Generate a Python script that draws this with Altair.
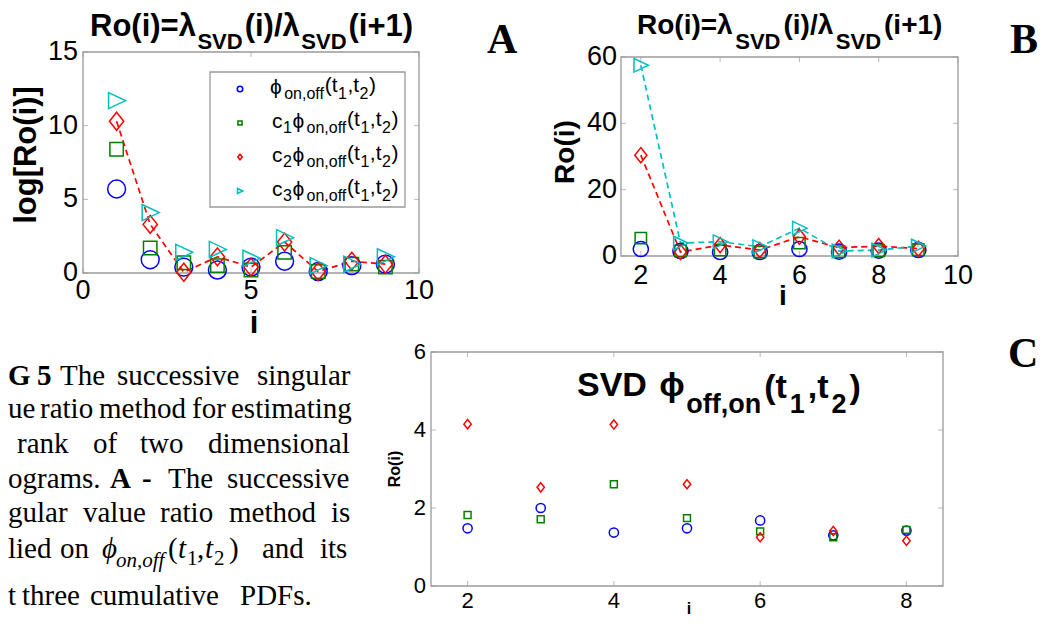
import altair as alt
import pandas as pd

# ---------------- data ----------------
SERIES = ["phi", "c1", "c2", "c3"]
COLORS = ["#0000ff", "#008000", "#ff0000", "#00bfbf"]

A_I = [1, 2, 3, 4, 5, 6, 7, 8, 9]
A_PHI = [5.7, 0.9, 0.4, 0.2, 0.4, 0.8, 0.1, 0.5, 0.6]
A_C1 = [8.4, 1.7, 0.7, 0.5, 0.2, 1.4, 0.1, 0.6, 0.4]
A_C2 = [10.3, 3.3, 0.05, 1.1, 0.4, 2.1, 0.1, 0.8, 0.6]
A_C3 = [11.7, 4.1, 1.4, 1.6, 1.0, 2.4, 0.5, 0.6, 1.1]

B_I = [2, 3, 4, 5, 6, 7, 8, 9]
B_PHI = [2.1, 1.5, 1.2, 1.2, 2.1, 1.3, 1.6, 1.8]
B_C1 = [5.4, 1.5, 1.8, 1.2, 3.9, 1.3, 1.6, 1.9]
B_C2 = [30.4, 1.2, 3.3, 1.8, 5.8, 2.5, 3.0, 2.2]
B_C3 = [57.5, 3.9, 4.3, 2.8, 8.4, 1.5, 1.8, 3.0]

C_I = [2, 3, 4, 5, 6, 7, 8]
C_PHI = [1.48, 2.00, 1.37, 1.48, 1.68, 1.30, 1.42]
C_C1 = [1.82, 1.71, 2.61, 1.74, 1.40, 1.25, 1.44]
C_C2 = [4.15, 2.53, 4.14, 2.61, 1.25, 1.41, 1.16]

A_XTICKS = [0, 5, 10]
A_YTICKS = [0, 5, 10, 15]
B_XTICKS = [2, 4, 6, 8, 10]
B_YTICKS = [0, 20, 40, 60]
C_XTICKS = [2, 4, 6, 8]
C_YTICKS = [0, 2, 4, 6]

# ---------------- style ----------------
W, H = 1033, 611
P = 8  # page margin
SANS = "Liberation Sans, Arial, DejaVu Sans"
SERIF = "Liberation Serif, Times New Roman, DejaVu Serif"
FRAME = "#9a9a9a"
PHI = "\u03d5"
SHAPES = [
    "circle",
    "M-0.75,-0.75L0.75,-0.75L0.75,0.75L-0.75,0.75Z",
    "M0,-1L0.8,0L0,1L-0.8,0Z",
    "M-0.9,-0.9L1,0L-0.9,0.9Z",
]
COLOR_SCALE = alt.Scale(domain=SERIES, range=COLORS)
SHAPE_SCALE = alt.Scale(domain=SERIES, range=SHAPES)


def long_df(i_vals, series_vals, names):
    rows = []
    for s, vals in zip(names, series_vals):
        for i, v in zip(i_vals, vals):
            rows.append({"i": i, "v": v, "series": s})
    return pd.DataFrame(rows)


def panel(df, xdom, ydom, box, xticks, yticks, fs, dyx, dxy, msize, line_series):
    x0, x1, y0, y1 = box  # page coords: left, right, top, bottom
    xs = alt.Scale(domain=xdom, range=[x0 - P, x1 - P], nice=False, zero=False)
    ys = alt.Scale(domain=ydom, range=[y1 - P, y0 - P], nice=False, zero=False)

    pts = alt.Chart(df).mark_point(filled=False, size=msize, strokeWidth=1.5, opacity=1).encode(
        x=alt.X("i:Q", scale=xs, axis=None),
        y=alt.Y("v:Q", scale=ys, axis=None),
        color=alt.Color("series:N", scale=COLOR_SCALE, legend=None),
        shape=alt.Shape("series:N", scale=SHAPE_SCALE, legend=None),
    )
    layers = []
    if line_series:
        lines = alt.Chart(df).transform_filter(
            alt.FieldOneOfPredicate(field="series", oneOf=line_series)
        ).mark_line(strokeDash=[6, 4], strokeWidth=1.7).encode(
            x=alt.X("i:Q", scale=xs, axis=None),
            y=alt.Y("v:Q", scale=ys, axis=None),
            color=alt.Color("series:N", scale=COLOR_SCALE, legend=None),
        )
        layers.append(lines)

    fdf = pd.DataFrame({"xa": [xdom[0]], "xb": [xdom[1]], "ya": [ydom[0]], "yb": [ydom[1]]})
    frame = alt.Chart(fdf).mark_rect(fillOpacity=0, stroke=FRAME, strokeWidth=1.3).encode(
        x=alt.X("xa:Q", scale=xs, axis=None), x2="xb:Q",
        y=alt.Y("ya:Q", scale=ys, axis=None), y2="yb:Q",
    )
    n, m = len(xticks), len(yticks)
    xt = pd.DataFrame({"t": list(xticks) * 2, "e": [ydom[0]] * n + [ydom[1]] * n,
                       "side": ["b"] * n + ["t"] * n})
    yt = pd.DataFrame({"t": list(yticks) * 2, "e": [xdom[0]] * m + [xdom[1]] * m,
                       "side": ["l"] * m + ["r"] * m})

    def xtick(side, off):
        return alt.Chart(xt[xt.side == side]).mark_tick(
            orient="vertical", size=5, thickness=1, yOffset=off, color=FRAME).encode(
            x=alt.X("t:Q", scale=xs, axis=None), y=alt.Y("e:Q", scale=ys, axis=None))

    def ytick(side, off):
        return alt.Chart(yt[yt.side == side]).mark_tick(
            orient="horizontal", size=5, thickness=1, xOffset=off, color=FRAME).encode(
            x=alt.X("e:Q", scale=xs, axis=None), y=alt.Y("t:Q", scale=ys, axis=None))

    # tick labels, placed through the panel scales
    xlab = alt.Chart(xt[xt.side == "b"]).mark_text(
        font=SANS, fontSize=fs, baseline="top", align="center", dy=dyx, color="#000").encode(
        x=alt.X("t:Q", scale=xs, axis=None), y=alt.Y("e:Q", scale=ys, axis=None),
        text=alt.Text("t:Q", format="d"))
    ylab = alt.Chart(yt[yt.side == "l"]).mark_text(
        font=SANS, fontSize=fs, baseline="middle", align="right", dx=-dxy, color="#000").encode(
        x=alt.X("e:Q", scale=xs, axis=None), y=alt.Y("t:Q", scale=ys, axis=None),
        text=alt.Text("t:Q", format="d"))
    return alt.layer(frame, xtick("b", -2.5), xtick("t", 2.5), ytick("l", 2.5),
                     ytick("r", -2.5), xlab, ylab, *layers, pts)


dfA = long_df(A_I, [A_PHI, A_C1, A_C2, A_C3], SERIES)
dfB = long_df(B_I, [B_PHI, B_C1, B_C2, B_C3], SERIES)
dfC = long_df(C_I, [C_PHI, C_C1, C_C2], SERIES[:3])

panelA = panel(dfA, [0, 10], [0, 15], (83, 419, 52, 273), A_XTICKS, A_YTICKS,
               27, 5, 5, 320, ["c2"])
panelB = panel(dfB, [1.5, 10], [0, 60], (621, 958, 57, 256), B_XTICKS, B_YTICKS,
               27, 7, 4, 230, ["c2", "c3"])
panelC = panel(dfC, [1.5, 8.5], [0, 6], (431, 943, 352, 586), C_XTICKS, C_YTICKS,
               22, 5, 5, 85, [])

# ---------------- text helpers ----------------
AR = {" ": 278, "(": 333, ")": 333, ",": 278, ".": 278, "+": 584, "=": 584, "/": 278,
      "c": 500, "f": 278, "n": 556, "o": 556, "t": 278, PHI: 650, "λ": 500}
ARB = {" ": 278, "(": 333, ")": 333, ",": 278, "+": 584, "=": 584, "/": 278,
       "f": 333, "n": 611, "o": 611, "t": 333, "i": 278, "R": 722, "S": 667,
       "V": 667, "D": 722, PHI: 700, "λ": 540}


def width(s, fs, bold=False):
    tab = ARB if bold else AR
    return sum(tab.get(ch, 556) for ch in s) * fs / 1000.0


rows = []


def add(t, x, y, fs, font=SANS, weight="normal", style="normal",
        align="left", baseline="alphabetic", angle=0):
    rows.append(dict(t=t, x=x - P, y=y - P, fs=fs, font=font, weight=weight,
                     style=style, align=align, baseline=baseline, angle=angle))


def run(x0, y0, parts, bold=False, gap=0.0):
    x = x0
    for t, fs, dy in parts:
        add(t, x, y0 + dy, fs, weight="bold" if bold else "normal")
        x += width(t, fs, bold) + gap


# Panel A title (bold, with subscripts)
run(90, 36, [("Ro(i)=λ", 31, 0), ("SVD", 22, 13), ("(i)/λ", 31, 0),
             ("SVD", 22, 13), ("(i+1)", 31, 0)], bold=True, gap=2)
# Panel B title
run(637, 34, [("Ro(i)=λ", 28, 0), ("SVD", 22, 15), ("(i)/λ", 28, 0),
              ("SVD", 22, 15), ("(i+1)", 28, 0)], bold=True, gap=3)
# Panel C inner title
run(577, 396, [("SVD ", 34, 0), (PHI, 34, 0), ("off,on", 27, 17), ("(t", 34, 2),
               ("1", 27, 17), (",t", 34, 2), ("2", 27, 17), (")", 34, 2)], bold=True, gap=3)

# axis titles
add("log[Ro(i)]", 27, 155, 31, weight="bold", align="center", baseline="middle", angle=270)
add("i", 254, 333, 31, weight="bold", align="center")
add("Ro(i)", 566, 152, 28, weight="bold", align="center", baseline="middle", angle=270)
add("i", 783, 305, 28, weight="bold", align="center")
add("Ro(i)", 395, 469, 16, weight="bold", align="center", baseline="middle", angle=270)
add("i", 689, 614, 16, weight="bold", align="center")

# panel letters
add("A", 487, 53, 42, font=SERIF, weight="bold")
add("B", 1010, 53, 42, font=SERIF, weight="bold")
add("C", 1008, 367, 42, font=SERIF, weight="bold")

# legend of panel A
LEG_Y = [89, 123, 157, 191]
for k, yk in enumerate(LEG_Y):
    tail = [(PHI, 21, 5), ("on,off", 16, 10), ("(t", 21, 3), ("1", 16, 10),
            (",t", 21, 3), ("2", 16, 10), (")", 21, 3)]
    if k == 0:
        run(270, yk, tail, gap=0.5)
    else:
        run(272, yk, [("c", 21, 5), (str(k), 16, 10)] + tail, gap=0.5)

# caption (justified lines, Times-like)
CAPTION = [
    (385, [("G", 8, "b"), ("5", 37, "b"), ("The", 60, "r"), ("successive", 117, "r"),
           ("singular", 257, "r")]),
    (418, [("ue", 8, "r"), ("ratio", 40, "r"), ("method", 99, "r"), ("for", 192, "r"),
           ("estimating", 231, "r")]),
    (453, [("rank", 17, "r"), ("of", 93, "r"), ("two", 140, "r"), ("dimensional", 208, "r")]),
    (488, [("ograms.", 8, "r"), ("A", 110, "b"), ("-", 142, "b"), ("The", 168, "r"),
           ("successive", 227, "r")]),
    (522, [("gular", 8, "r"), ("value", 83, "r"), ("ratio", 160, "r"), ("method", 229, "r"),
           ("is", 331, "r")]),
    (558, [("lied", 8, "r"), ("on", 60, "r"), ("and", 262, "r"), ("its", 320, "r")]),
    (605, [("t", 8, "r"), ("three", 22, "r"), ("cumulative", 90, "r"), ("PDFs.", 240, "r")]),
]
for y, words in CAPTION:
    for t, x, kind in words:
        add(t, x, y, 29, font=SERIF, weight="bold" if kind == "b" else "normal")
# math in caption line 6
for t, x, dy, fs, st in [(PHI, 102, 0, 29, "italic"), ("on,off", 116, 9, 21, "italic"),
                         ("(", 168, 0, 29, "normal"), ("t", 178, 0, 29, "italic"),
                         ("1", 187, 7, 21, "normal"), (",", 197, 0, 29, "normal"),
                         ("t", 205, 0, 29, "italic"), ("2", 214, 7, 21, "normal"),
                         (")", 229, 0, 29, "normal")]:
    add(t, x, 558 + dy, fs, font=SERIF, style=st)

tdf = pd.DataFrame(rows)
text_layers = []
for key, g in tdf.groupby(["font", "weight", "style", "align", "baseline", "angle"]):
    font, weight, style, align, baseline, angle = key
    text_layers.append(
        alt.Chart(g.reset_index(drop=True)).mark_text(
            font=font, fontWeight=weight, fontStyle=style, align=align,
            baseline=baseline, angle=int(angle), color="#000"
        ).encode(
            x=alt.X("x:Q", scale=None, axis=None),
            y=alt.Y("y:Q", scale=None, axis=None),
            text="t:N",
            size=alt.Size("fs:Q", scale=None, legend=None),
        )
    )

# legend box and symbols
lbox = alt.Chart(pd.DataFrame({"x": [210 - P], "x2": [405 - P], "y": [72 - P], "y2": [207 - P]})
                 ).mark_rect(fill="white", stroke=FRAME, strokeWidth=1.3).encode(
    x=alt.X("x:Q", scale=None, axis=None), x2="x2:Q",
    y=alt.Y("y:Q", scale=None, axis=None), y2="y2:Q")
lsym = alt.Chart(pd.DataFrame({"series": SERIES, "px": [240 - P] * 4,
                               "py": [y - P for y in LEG_Y]})).mark_point(
    filled=False, size=30, strokeWidth=1.6, opacity=1).encode(
    x=alt.X("px:Q", scale=None, axis=None),
    y=alt.Y("py:Q", scale=None, axis=None),
    color=alt.Color("series:N", scale=COLOR_SCALE, legend=None),
    shape=alt.Shape("series:N", scale=SHAPE_SCALE, legend=None),
)

chart = alt.layer(panelA, panelB, panelC, lbox, lsym, *text_layers).resolve_scale(
    x="independent", y="independent"
).properties(
    width=W, height=H, autosize=alt.AutoSizeParams(type="none"), padding=0,
    background="white"
).configure_view(strokeWidth=0)

chart.save("out.html", embed_options={"renderer": "svg", "actions": False})
